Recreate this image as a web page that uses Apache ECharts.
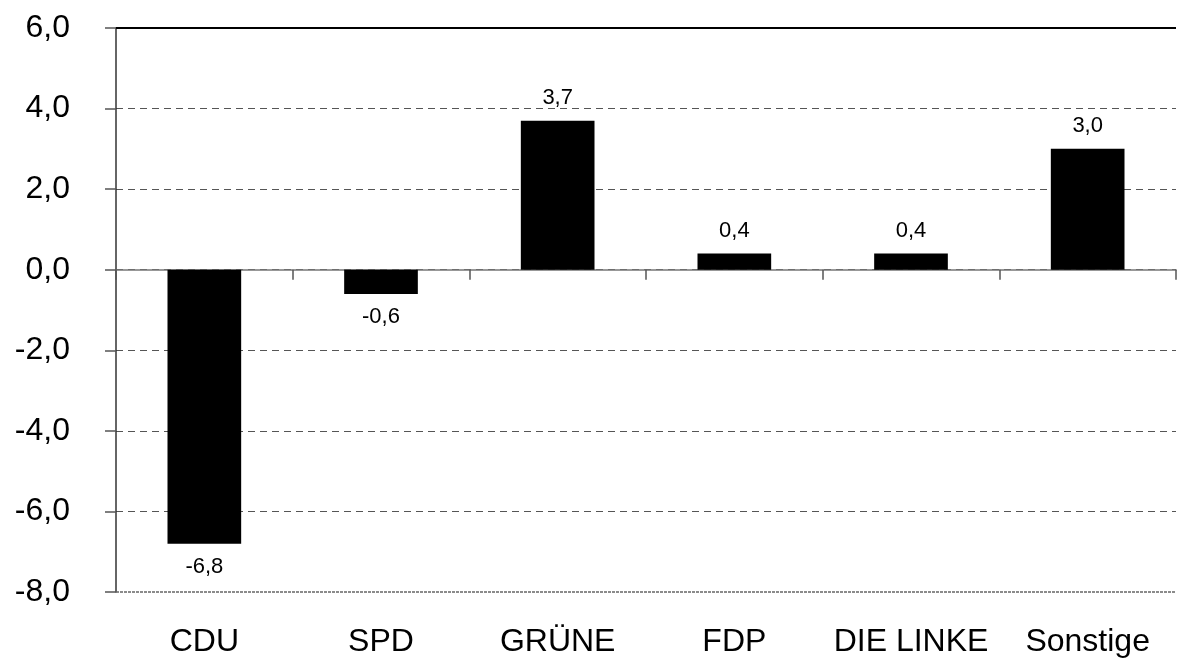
<!DOCTYPE html>
<html>
<head>
<meta charset="utf-8">
<script src="https://cdn.jsdelivr.net/npm/echarts@6/dist/echarts.min.js"></script>
<style>
    html, body { margin: 0; padding: 0; background: #fff; }
    #chart { width: 1177px; height: 660px; }
</style>
</head>
<body>
<div id="chart"></div>
<script>
    // Gewinn- und Verlustrechnung in Prozentpunkten
    var parties = ['CDU', 'SPD', 'GRÜNE', 'FDP', 'DIE LINKE', 'Sonstige'];
    var changes = [-6.8, -0.6, 3.7, 0.4, 0.4, 3.0];
    var yMin = -8, yMax = 6, yStep = 2;

    var font = 'Liberation Sans, Arial, sans-serif';

    function comma(v) {
        return Number(v).toFixed(1).replace('.', ',');
    }

    var barData = [];
    for (var i = 0; i < changes.length; i++) {
        barData.push({
            value: changes[i],
            label: { position: changes[i] < 0 ? 'bottom' : 'top' }
        });
    }

    var chart = echarts.init(document.getElementById('chart'));

    var option = {
        backgroundColor: '#fff',
        animation: false,
        grid: {
            left: 116,
            right: 1,
            top: 28,
            bottom: 68
        },
        xAxis: [
            {
                type: 'category',
                position: 'bottom',
                data: parties,
                axisLine: { show: false, onZero: false },
                axisTick: { show: false },
                axisLabel: {
                    interval: 0,
                    margin: 34,
                    color: '#000',
                    fontFamily: font,
                    fontSize: 32
                },
                splitLine: { show: false }
            },
            {
                type: 'category',
                position: 'bottom',
                data: parties,
                axisLine: {
                    show: true,
                    onZero: true,
                    lineStyle: { color: '#777', width: 1.5 }
                },
                axisTick: {
                    show: true,
                    length: 10,
                    lineStyle: { color: '#555', width: 1.5 }
                },
                axisLabel: { show: false },
                splitLine: { show: false }
            }
        ],
        yAxis: {
            type: 'value',
            min: yMin,
            max: yMax,
            interval: yStep,
            axisLine: {
                show: true,
                lineStyle: { color: '#333', width: 1.5 }
            },
            axisTick: {
                show: true,
                length: 11,
                lineStyle: { color: '#555', width: 1.5 }
            },
            axisLabel: {
                margin: 46,
                color: '#000',
                fontFamily: font,
                fontSize: 32,
                formatter: comma
            },
            splitLine: {
                show: true,
                showMinLine: false,
                showMaxLine: false,
                lineStyle: { color: '#555', type: [7, 5], width: 1 }
            }
        },
        series: [
            {
                type: 'bar',
                xAxisIndex: 0,
                barWidth: '41.7%',
                itemStyle: { color: '#000' },
                label: {
                    show: true,
                    distance: 12,
                    color: '#000',
                    fontFamily: font,
                    fontSize: 22,
                    formatter: function (p) { return comma(p.value); }
                },
                markLine: {
                    silent: true,
                    symbol: 'none',
                    label: { show: false },
                    data: [
                        { yAxis: yMax, lineStyle: { color: '#000', type: 'solid', width: 2 } },
                        { yAxis: yMin, lineStyle: { color: '#666', type: [3, 1], width: 1.5 } }
                    ]
                },
                data: barData
            }
        ]
    };

    chart.setOption(option);
</script>
</body>
</html>
